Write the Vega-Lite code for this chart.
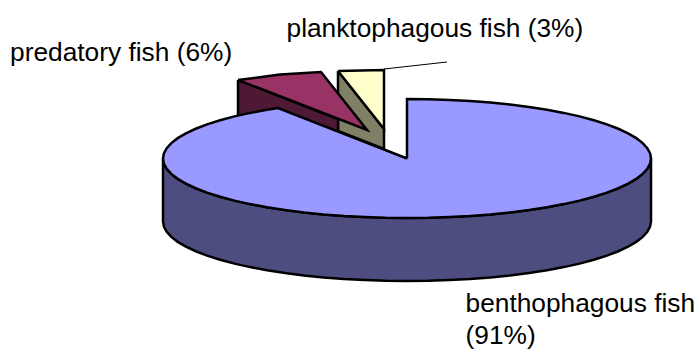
{"$schema":"https://vega.github.io/schema/vega-lite/v6.json","width":698,"height":349,"padding":0,"autosize":{"type":"none"},"background":"white","config":{"view":{"stroke":null}},
"layer":[
{"data":{"values":[{"x":163,"y":158.5,"y2":221.5},{"x":163.9,"y":163.7,"y2":226.7},{"x":166.7,"y":168.8,"y2":231.8},{"x":171.3,"y":173.9,"y2":236.9},{"x":177.7,"y":178.85,"y2":241.85},{"x":185.9,"y":183.6,"y2":246.6},{"x":195.7,"y":188.25,"y2":251.25},{"x":207.1,"y":192.6,"y2":255.6},{"x":220.1,"y":196.7,"y2":259.7},{"x":234.5,"y":200.6,"y2":263.6},{"x":250.2,"y":204.1,"y2":267.1},{"x":267,"y":207.2,"y2":270.2},{"x":285,"y":210,"y2":273},{"x":303.9,"y":212.4,"y2":275.4},{"x":323.6,"y":214.4,"y2":277.4},{"x":343.9,"y":216,"y2":279},{"x":364.6,"y":217.1,"y2":280.1},{"x":385.7,"y":217.8,"y2":280.8},{"x":407,"y":218,"y2":281},{"x":428.3,"y":217.8,"y2":280.8},{"x":449.4,"y":217.1,"y2":280.1},{"x":470.1,"y":216,"y2":279},{"x":490.4,"y":214.4,"y2":277.4},{"x":510.1,"y":212.4,"y2":275.4},{"x":529,"y":210,"y2":273},{"x":547,"y":207.2,"y2":270.2},{"x":563.8,"y":204.1,"y2":267.1},{"x":579.5,"y":200.6,"y2":263.6},{"x":593.9,"y":196.7,"y2":259.7},{"x":606.9,"y":192.6,"y2":255.6},{"x":618.3,"y":188.25,"y2":251.25},{"x":628.1,"y":183.6,"y2":246.6},{"x":636.3,"y":178.85,"y2":241.85},{"x":642.7,"y":173.9,"y2":236.9},{"x":647.3,"y":168.8,"y2":231.8},{"x":650.1,"y":163.7,"y2":226.7},{"x":651,"y":158.5,"y2":221.5}]},
"mark":{"type":"area","fill":"#4d4d80","stroke":"black","strokeWidth":2.5},
"encoding":{"x":{"field":"x","type":"quantitative","scale":{"domain":[0,698],"nice":false,"zero":false},"axis":null},"y":{"field":"y","type":"quantitative","scale":{"domain":[349,0],"nice":false,"zero":false},"axis":null},"y2":{"field":"y2"}}},
{"data":{"values":[
{"slice":"planktonSide","i":0,"x":338,"y":71},{"slice":"planktonSide","i":1,"x":384,"y":129},{"slice":"planktonSide","i":2,"x":384,"y":149},{"slice":"planktonSide","i":3,"x":338,"y":131},{"slice":"planktonSide","i":4,"x":338,"y":71},
{"slice":"planktonTop","i":0,"x":338,"y":71},{"slice":"planktonTop","i":1,"x":384,"y":70},{"slice":"planktonTop","i":2,"x":384,"y":129},{"slice":"planktonTop","i":3,"x":338,"y":71},
{"slice":"predatorSide","i":0,"x":238,"y":80},{"slice":"predatorSide","i":1,"x":338,"y":119},{"slice":"predatorSide","i":2,"x":338,"y":135},{"slice":"predatorSide","i":3,"x":278,"y":112},{"slice":"predatorSide","i":4,"x":238,"y":120},{"slice":"predatorSide","i":5,"x":238,"y":80},
{"slice":"predatorTop","i":0,"x":238,"y":80},{"slice":"predatorTop","i":1,"x":280,"y":74.5},{"slice":"predatorTop","i":2,"x":321,"y":72},{"slice":"predatorTop","i":3,"x":367,"y":130},{"slice":"predatorTop","i":4,"x":238,"y":80},
{"slice":"main","i":0,"x":407,"y":158.5},{"slice":"main","i":1,"x":407,"y":99},{"slice":"main","i":2,"x":428.3,"y":99.2},{"slice":"main","i":3,"x":449.4,"y":99.9},{"slice":"main","i":4,"x":470.1,"y":101},{"slice":"main","i":5,"x":490.4,"y":102.6},{"slice":"main","i":6,"x":510.1,"y":104.6},{"slice":"main","i":7,"x":529,"y":107},{"slice":"main","i":8,"x":547,"y":109.8},{"slice":"main","i":9,"x":563.8,"y":112.9},{"slice":"main","i":10,"x":579.5,"y":116.4},{"slice":"main","i":11,"x":593.9,"y":120.3},{"slice":"main","i":12,"x":606.9,"y":124.4},{"slice":"main","i":13,"x":618.3,"y":128.75},{"slice":"main","i":14,"x":628.1,"y":133.4},{"slice":"main","i":15,"x":636.3,"y":138.15},{"slice":"main","i":16,"x":642.7,"y":143.1},{"slice":"main","i":17,"x":647.3,"y":148.2},{"slice":"main","i":18,"x":650.1,"y":153.3},{"slice":"main","i":19,"x":651,"y":158.5},{"slice":"main","i":20,"x":650.1,"y":163.7},{"slice":"main","i":21,"x":647.3,"y":168.8},{"slice":"main","i":22,"x":642.7,"y":173.9},{"slice":"main","i":23,"x":636.3,"y":178.85},{"slice":"main","i":24,"x":628.1,"y":183.6},{"slice":"main","i":25,"x":618.3,"y":188.25},{"slice":"main","i":26,"x":606.9,"y":192.6},{"slice":"main","i":27,"x":593.9,"y":196.7},{"slice":"main","i":28,"x":579.5,"y":200.6},{"slice":"main","i":29,"x":563.8,"y":204.1},{"slice":"main","i":30,"x":547,"y":207.2},{"slice":"main","i":31,"x":529,"y":210},{"slice":"main","i":32,"x":510.1,"y":212.4},{"slice":"main","i":33,"x":490.4,"y":214.4},{"slice":"main","i":34,"x":470.1,"y":216},{"slice":"main","i":35,"x":449.4,"y":217.1},{"slice":"main","i":36,"x":428.3,"y":217.8},{"slice":"main","i":37,"x":407,"y":218},{"slice":"main","i":38,"x":385.7,"y":217.8},{"slice":"main","i":39,"x":364.6,"y":217.1},{"slice":"main","i":40,"x":343.9,"y":216},{"slice":"main","i":41,"x":323.6,"y":214.4},{"slice":"main","i":42,"x":303.9,"y":212.4},{"slice":"main","i":43,"x":285,"y":210},{"slice":"main","i":44,"x":267,"y":207.2},{"slice":"main","i":45,"x":250.2,"y":204.1},{"slice":"main","i":46,"x":234.5,"y":200.6},{"slice":"main","i":47,"x":220.1,"y":196.7},{"slice":"main","i":48,"x":207.1,"y":192.6},{"slice":"main","i":49,"x":195.7,"y":188.25},{"slice":"main","i":50,"x":185.9,"y":183.6},{"slice":"main","i":51,"x":177.7,"y":178.85},{"slice":"main","i":52,"x":171.3,"y":173.9},{"slice":"main","i":53,"x":166.7,"y":168.8},{"slice":"main","i":54,"x":163.9,"y":163.7},{"slice":"main","i":55,"x":163,"y":158.5},{"slice":"main","i":56,"x":163.9,"y":153.3},{"slice":"main","i":57,"x":166.7,"y":148.2},{"slice":"main","i":58,"x":171.3,"y":143.1},{"slice":"main","i":59,"x":177.7,"y":138.15},{"slice":"main","i":60,"x":185.9,"y":133.4},{"slice":"main","i":61,"x":195.7,"y":128.75},{"slice":"main","i":62,"x":207.1,"y":124.4},{"slice":"main","i":63,"x":220.1,"y":120.3},{"slice":"main","i":64,"x":234.5,"y":116.4},{"slice":"main","i":65,"x":250.2,"y":112.9},{"slice":"main","i":66,"x":267,"y":109.8},{"slice":"main","i":67,"x":278,"y":108},{"slice":"main","i":68,"x":407,"y":158.5}
]},
"mark":{"type":"line","stroke":"black","strokeWidth":2.5,"strokeJoin":"miter","strokeMiterLimit":10},
"encoding":{"x":{"field":"x","type":"quantitative","scale":{"domain":[0,698],"nice":false,"zero":false},"axis":null},"y":{"field":"y","type":"quantitative","scale":{"domain":[349,0],"nice":false,"zero":false},"axis":null},"order":{"field":"i","type":"quantitative"},"detail":{"field":"slice"},"fill":{"field":"slice","type":"nominal","legend":null,"scale":{"domain":["planktonSide","planktonTop","predatorSide","predatorTop","main"],"range":["#808066","#ffffcc","#4d1933","#993366","#9999ff"]}}}},
{"data":{"values":[{"x":384,"y":69},{"x":447,"y":62}]},"mark":{"type":"line","stroke":"black","strokeWidth":1},
"encoding":{"x":{"field":"x","type":"quantitative","scale":{"domain":[0,698],"nice":false,"zero":false},"axis":null},"y":{"field":"y","type":"quantitative","scale":{"domain":[349,0],"nice":false,"zero":false},"axis":null}}},
{"data":{"values":[{"x":286.5,"y":36.5,"t":"planktophagous fish (3%)"},{"x":10,"y":60.5,"t":"predatory fish (6%)"},{"x":465.5,"y":311.5,"t":"benthophagous fish"},{"x":465.5,"y":344,"t":"(91%)"}]},
"mark":{"type":"text","font":"Liberation Sans","fontSize":26.3,"align":"left","baseline":"alphabetic","fill":"black"},
"encoding":{"x":{"field":"x","type":"quantitative","scale":{"domain":[0,698],"nice":false,"zero":false},"axis":null},"y":{"field":"y","type":"quantitative","scale":{"domain":[349,0],"nice":false,"zero":false},"axis":null},"text":{"field":"t"}}}
]}
